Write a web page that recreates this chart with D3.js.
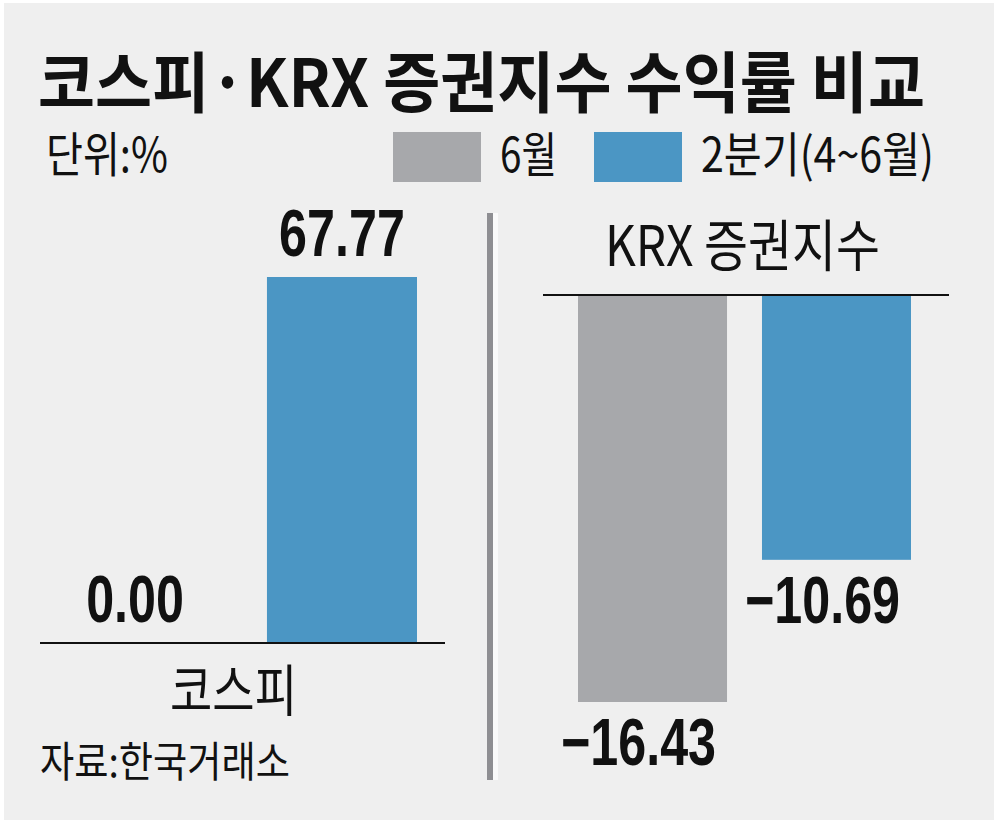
<!DOCTYPE html>
<html>
<head>
<meta charset="utf-8">
<script src="https://cdn.jsdelivr.net/npm/d3@7"></script>
<style>
  body { margin: 0; background: #fff; }
  text { font-family: "Noto Sans CJK KR", "Noto Sans", sans-serif; fill: #111; }
  .num { font-family: "Liberation Sans", Arial, sans-serif; font-weight: bold; }
</style>
</head>
<body>
<div id="chart"></div>
<script>
var seriesNames = ["6월", "2분기(4~6월)"];
var seriesColors = ["#a7a8ab", "#4b96c4"];
var panelNames = ["코스피", "KRX 증권지수"];
var kospiValues = [0.00, 67.77];
var krxValues = [-16.43, -10.69];
var kospiLabels = ["0.00", "67.77"];
var krxLabels = ["\u221216.43", "\u221210.69"];

var w = 1000, h = 827;
var numScale = 0.75;

// the original uses a condensed gothic, so squeeze text to its measured width
function squeeze(sel, width) {
  sel.attr("textLength", width).attr("lengthAdjust", "spacingAndGlyphs");
}

var svg = d3.select("#chart")
            .append("svg")
            .attr("width", w)
            .attr("height", h);

svg.append("rect")
   .attr("x", 4).attr("y", 3)
   .attr("width", 990).attr("height", 817)
   .attr("fill", "#efefef");

// title
svg.append("text")
   .attr("x", 38).attr("y", 107)
   .attr("font-size", 66)
   .attr("font-weight", "bold")
   .call(squeeze, 887)
   .text("코스피·KRX 증권지수 수익률 비교");

svg.append("text")
   .attr("x", 46).attr("y", 172)
   .attr("font-size", 48)
   .call(squeeze, 122)
   .text("단위:%");

// legend
var legendX = [393, 594];
var legendTextW = [57, 233];
var legend = svg.selectAll("g.legend")
   .data(seriesNames)
   .enter()
   .append("g")
   .attr("class", "legend")
   .attr("transform", function(d, i) { return "translate(" + legendX[i] + ",132)"; });

legend.append("rect")
   .attr("width", 88).attr("height", 50)
   .attr("fill", function(d, i) { return seriesColors[i]; });

legend.append("text")
   .attr("x", 107).attr("y", 40)
   .attr("font-size", 48)
   .attr("textLength", function(d, i) { return legendTextW[i]; })
   .attr("lengthAdjust", "spacingAndGlyphs")
   .text(function(d) { return d; });

// divider
svg.append("rect")
   .attr("x", 487).attr("y", 213)
   .attr("width", 6).attr("height", 567)
   .attr("fill", "#8e8e92");
svg.append("rect")
   .attr("x", 493).attr("y", 213)
   .attr("width", 5).attr("height", 567)
   .attr("fill", "#fafafa");

// left panel: KOSPI
var xLeft = d3.scaleBand()
              .domain(seriesNames)
              .range([60, 417])
              .paddingInner(0.275)
              .paddingOuter(0);

var yLeft = d3.scaleLinear()
              .domain([0, d3.max(kospiValues)])
              .range([643, 277]);

svg.selectAll("rect.kospi")
   .data(kospiValues)
   .enter()
   .append("rect")
   .attr("class", "kospi")
   .attr("x", function(d, i) { return xLeft(seriesNames[i]); })
   .attr("y", function(d) { return yLeft(d); })
   .attr("width", xLeft.bandwidth())
   .attr("height", function(d) { return yLeft(0) - yLeft(d); })
   .attr("fill", function(d, i) { return seriesColors[i]; });

svg.selectAll("text.kospiLabel")
   .data(kospiValues)
   .enter()
   .append("text")
   .attr("class", "num kospiLabel")
   .attr("text-anchor", "middle")
   .attr("font-size", 67)
   .attr("transform", function(d, i) {
     var cx = xLeft(seriesNames[i]) + xLeft.bandwidth() / 2;
     return "translate(" + cx + "," + (yLeft(d) - 21) + ") scale(" + numScale + ",1)";
   })
   .text(function(d, i) { return kospiLabels[i]; });

svg.append("line")
   .attr("x1", 40).attr("x2", 445)
   .attr("y1", yLeft(0)).attr("y2", yLeft(0))
   .attr("stroke", "#111").attr("stroke-width", 2);

svg.append("text")
   .attr("x", 170).attr("y", 711)
   .attr("font-size", 56)
   .call(squeeze, 127)
   .text(panelNames[0]);

// right panel: KRX securities
var xRight = d3.scaleBand()
               .domain(seriesNames)
               .range([578, 911])
               .paddingInner(0.19)
               .paddingOuter(0);

var yRight = d3.scaleLinear()
               .domain([d3.min(krxValues), 0])
               .range([702, 295]);

svg.selectAll("rect.krx")
   .data(krxValues)
   .enter()
   .append("rect")
   .attr("class", "krx")
   .attr("x", function(d, i) { return xRight(seriesNames[i]); })
   .attr("y", yRight(0))
   .attr("width", xRight.bandwidth())
   .attr("height", function(d) { return yRight(d) - yRight(0); })
   .attr("fill", function(d, i) { return seriesColors[i]; });

svg.selectAll("text.krxLabel")
   .data(krxValues)
   .enter()
   .append("text")
   .attr("class", "num krxLabel")
   .attr("text-anchor", "middle")
   .attr("font-size", 67)
   .attr("transform", function(d, i) {
     var cx = xRight(seriesNames[i]) + xRight.bandwidth() / 2 - 14;
     return "translate(" + cx + "," + (yRight(d) + 63) + ") scale(" + numScale + ",1)";
   })
   .text(function(d, i) { return krxLabels[i]; });

svg.append("line")
   .attr("x1", 543).attr("x2", 949)
   .attr("y1", yRight(0)).attr("y2", yRight(0))
   .attr("stroke", "#111").attr("stroke-width", 2);

svg.append("text")
   .attr("x", 605).attr("y", 266)
   .attr("font-size", 56)
   .call(squeeze, 275)
   .text(panelNames[1]);

// source
svg.append("text")
   .attr("x", 40).attr("y", 777)
   .attr("font-size", 42)
   .call(squeeze, 250)
   .text("자료:한국거래소");
</script>
</body>
</html>
